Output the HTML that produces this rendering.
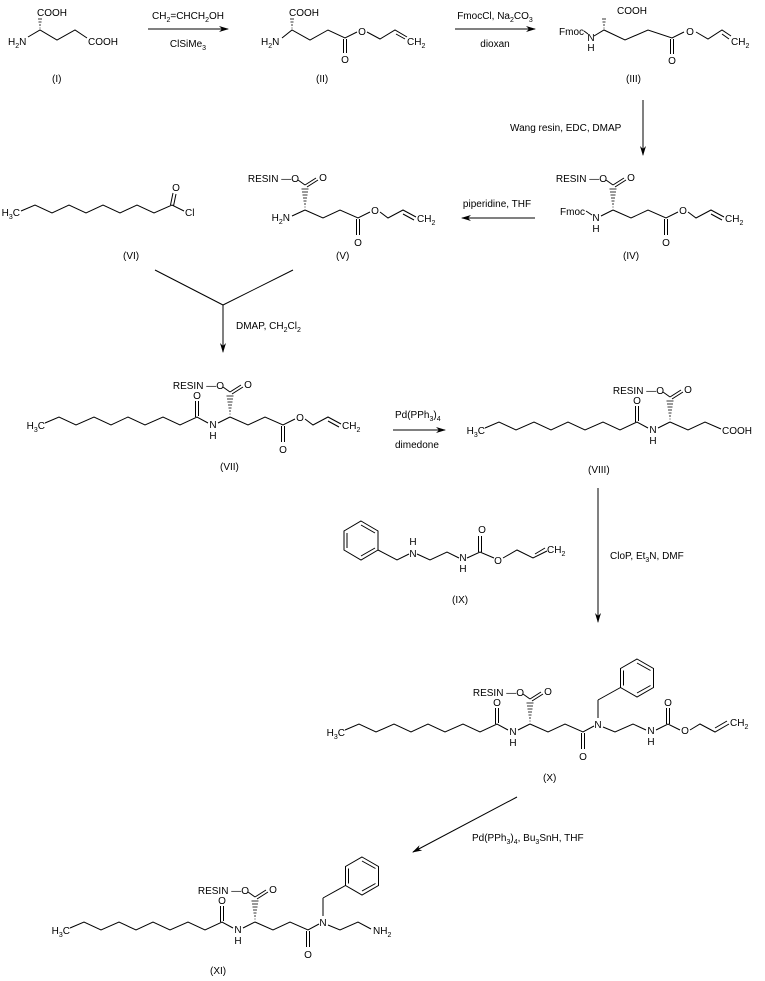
<!DOCTYPE html>
<html><head><meta charset="utf-8"><style>
html,body{margin:0;padding:0;background:#fff}
svg{display:block}
text{font-family:"Liberation Sans",Arial,sans-serif;font-size:10px;fill:#000}
.s{font-size:7px}
</style></head><body>
<svg width="765" height="981" viewBox="0 0 765 981" xmlns="http://www.w3.org/2000/svg">
<defs>
<marker id="ah" markerWidth="10" markerHeight="6" refX="9" refY="3" orient="auto" markerUnits="userSpaceOnUse"><path d="M0,0 L10,3 L0,6 L3,3 z" fill="#000"/></marker>
</defs>
<g stroke="#000" stroke-width="1" fill="none">
<!-- I -->
<polyline points="28,37 40,30 57,40 75,30 87,38"/>
<g stroke-width="0.8"><line x1="39.5" y1="28" x2="40.5" y2="28"/><line x1="39" y1="25" x2="41" y2="25"/><line x1="38.5" y1="22" x2="41.5" y2="22"/><line x1="38" y1="19" x2="42" y2="19"/></g>
<line x1="148" y1="29" x2="228" y2="29" marker-end="url(#ah)"/>
<!-- II -->
<polyline points="282,38 292,30 310,40 328,30 345,38 357,32"/>
<line x1="343.5" y1="39" x2="343.5" y2="53"/><line x1="346.5" y1="39" x2="346.5" y2="53"/>
<polyline points="367,32 380,39 395,30 407,37"/><line x1="396" y1="34" x2="405" y2="39"/>
<g stroke-width="0.8"><line x1="291.5" y1="28" x2="292.5" y2="28"/><line x1="291" y1="25" x2="293" y2="25"/><line x1="290.5" y1="22" x2="293.5" y2="22"/><line x1="290" y1="19" x2="294" y2="19"/></g>
<line x1="455" y1="29" x2="535" y2="29" marker-end="url(#ah)"/>
<!-- III -->
<line x1="584" y1="31" x2="588" y2="34"/>
<polyline points="594,36 604,30 625,40 648,30 672,38 684,32"/>
<line x1="670.5" y1="39" x2="670.5" y2="54"/><line x1="673.5" y1="39" x2="673.5" y2="54"/>
<polyline points="696,32 708,39 722,30 731,36"/><line x1="722" y1="34" x2="729" y2="39"/>
<g stroke-width="0.8"><line x1="603.5" y1="28" x2="604.5" y2="28"/><line x1="603" y1="25" x2="605" y2="25"/><line x1="602.5" y1="22" x2="605.5" y2="22"/><line x1="602" y1="19" x2="606" y2="19"/></g>
<line x1="643" y1="100" x2="643" y2="155" marker-end="url(#ah)"/>
<line x1="535" y1="218" x2="462" y2="218" marker-end="url(#ah)"/>
<!-- VI -->
<polyline points="21,211 35,205 52,213 69,205 86,213 103,205 120,213 137,205 154,213 172,205 184,211"/>
<line x1="170.5" y1="205" x2="173" y2="193"/><line x1="173.5" y1="206" x2="176" y2="194"/>
<line x1="155" y1="270" x2="223" y2="305"/><line x1="293" y1="270" x2="223" y2="305"/>
<line x1="223" y1="305" x2="223" y2="352" marker-end="url(#ah)"/>
<line x1="393" y1="430" x2="445" y2="430" marker-end="url(#ah)"/>
<line x1="598" y1="488" x2="598" y2="622" marker-end="url(#ah)"/>
<!-- IX -->
<polygon points="361,521 378,531 378,550 361,560 344,550 344,531"/>
<line x1="347" y1="533" x2="347" y2="548"/><line x1="361" y1="525" x2="375" y2="533"/><line x1="361" y1="556" x2="375" y2="548"/>
<polyline points="378,550 397,560 409,554"/>
<polyline points="417,554 430,560 447,552 459,558"/>
<polyline points="467,558 480,552 494,558"/>
<line x1="478.5" y1="552" x2="478.5" y2="536"/><line x1="481.5" y1="552" x2="481.5" y2="536"/>
<polyline points="503,558 517,550 533,558 547,551"/><line x1="535" y1="554" x2="545" y2="548"/>
<line x1="517" y1="797" x2="413" y2="852" marker-end="url(#ah)"/>
</g>

<text x="37" y="16">COOH</text>
<text x="8" y="45">H<tspan class="s" dy="3">2</tspan><tspan dy="-3">N</tspan></text>
<text x="88" y="45">COOH</text>
<text x="52" y="82">(I)</text>
<text x="188" y="19" text-anchor="middle">CH<tspan class="s" dy="3">2</tspan><tspan dy="-3">=CHCH</tspan><tspan class="s" dy="3">2</tspan><tspan dy="-3">OH</tspan></text>
<text x="188" y="47" text-anchor="middle">ClSiMe<tspan class="s" dy="3">3</tspan></text>
<text x="289" y="16">COOH</text>
<text x="261" y="45">H<tspan class="s" dy="3">2</tspan><tspan dy="-3">N</tspan></text>
<text x="345" y="63" text-anchor="middle">O</text>
<text x="362" y="35" text-anchor="middle">O</text>
<text x="407" y="45">CH<tspan class="s" dy="3">2</tspan></text>
<text x="316" y="82">(II)</text>
<text x="495" y="19" text-anchor="middle">FmocCl, Na<tspan class="s" dy="3">2</tspan><tspan dy="-3">CO</tspan><tspan class="s" dy="3">3</tspan></text>
<text x="495" y="47" text-anchor="middle">dioxan</text>
<text x="584" y="35" text-anchor="end">Fmoc</text>
<text x="591" y="41" text-anchor="middle">N</text>
<text x="591" y="51" text-anchor="middle">H</text>
<text x="617" y="14">COOH</text>
<text x="672" y="64" text-anchor="middle">O</text>
<text x="690" y="35" text-anchor="middle">O</text>
<text x="731" y="45">CH<tspan class="s" dy="3">2</tspan></text>
<text x="626" y="82">(III)</text>
<text x="510" y="131">Wang resin, EDC, DMAP</text>
<text x="497" y="207" text-anchor="middle">piperidine, THF</text>
<text x="20" y="216" text-anchor="end">H<tspan class="s" dy="3">3</tspan><tspan dy="-3">C</tspan></text>
<text x="176" y="191" text-anchor="middle">O</text>
<text x="185" y="216">Cl</text>
<text x="123" y="259">(VI)</text>
<text x="336" y="259">(V)</text>
<text x="623" y="259">(IV)</text>
<text x="236" y="329">DMAP, CH<tspan class="s" dy="3">2</tspan><tspan dy="-3">Cl</tspan><tspan class="s" dy="3">2</tspan></text>
<text x="395" y="418">Pd(PPh<tspan class="s" dy="3">3</tspan><tspan dy="-3">)</tspan><tspan class="s" dy="3">4</tspan></text>
<text x="395" y="448">dimedone</text>
<text x="220" y="470">(VII)</text>
<text x="588" y="473">(VIII)</text>
<text x="610" y="559">CloP, Et<tspan class="s" dy="3">3</tspan><tspan dy="-3">N, DMF</tspan></text>
<text x="413" y="557" text-anchor="middle">N</text>
<text x="413" y="545" text-anchor="middle">H</text>
<text x="463" y="561" text-anchor="middle">N</text>
<text x="463" y="572" text-anchor="middle">H</text>
<text x="482" y="533" text-anchor="middle">O</text>
<text x="498" y="564" text-anchor="middle">O</text>
<text x="547" y="553">CH<tspan class="s" dy="3">2</tspan></text>
<text x="452" y="603">(IX)</text>
<text x="543" y="781">(X)</text>
<text x="472" y="841">Pd(PPh<tspan class="s" dy="3">3</tspan><tspan dy="-3">)</tspan><tspan class="s" dy="3">4</tspan><tspan dy="-3">, Bu</tspan><tspan class="s" dy="3">3</tspan><tspan dy="-3">SnH, THF</tspan></text>
<text x="210" y="974">(XI)</text>

<!-- V -->
<g transform="translate(117,218)">
<g stroke="#000" fill="none">
<line x1="188" y1="-33" x2="199" y2="-40"/><line x1="190" y1="-31" x2="201" y2="-38"/>
<line x1="188" y1="-33" x2="181" y2="-38"/>
<g stroke-width="0.8"><line x1="187.5" y1="-11" x2="188.5" y2="-11"/><line x1="187" y1="-14" x2="189" y2="-14"/><line x1="186.5" y1="-17" x2="189.5" y2="-17"/><line x1="186" y1="-20" x2="190" y2="-20"/><line x1="185.5" y1="-23" x2="190.5" y2="-23"/><line x1="185" y1="-26" x2="191" y2="-26"/><line x1="184.5" y1="-29" x2="191.5" y2="-29"/></g>
<line x1="175" y1="-2" x2="188" y2="-8"/>
<polyline points="188,-8 206,0 223,-8 241,0 253,-6"/>
<line x1="239.5" y1="1" x2="239.5" y2="17"/><line x1="242.5" y1="1" x2="242.5" y2="17"/>
<polyline points="263,-6 271,0 286,-8 299,-1"/><line x1="286" y1="-4" x2="297" y2="2"/>
</g>
<text x="182" y="-36" text-anchor="end">RESIN —O</text>
<text x="206" y="-37" text-anchor="middle">O</text>
<text x="173" y="3" text-anchor="end">H<tspan class="s" dy="3">2</tspan><tspan dy="-3">N</tspan></text>
<text x="241" y="28" text-anchor="middle">O</text>
<text x="258" y="-4" text-anchor="middle">O</text>
<text x="300" y="4">CH<tspan class="s" dy="3">2</tspan></text>
</g>

<!-- IV -->
<g transform="translate(425,218)">
<g stroke="#000" fill="none">
<line x1="188" y1="-33" x2="199" y2="-40"/><line x1="190" y1="-31" x2="201" y2="-38"/>
<line x1="188" y1="-33" x2="181" y2="-38"/>
<g stroke-width="0.8"><line x1="187.5" y1="-11" x2="188.5" y2="-11"/><line x1="187" y1="-14" x2="189" y2="-14"/><line x1="186.5" y1="-17" x2="189.5" y2="-17"/><line x1="186" y1="-20" x2="190" y2="-20"/><line x1="185.5" y1="-23" x2="190.5" y2="-23"/><line x1="185" y1="-26" x2="191" y2="-26"/><line x1="184.5" y1="-29" x2="191.5" y2="-29"/></g>
<line x1="161" y1="-7" x2="167" y2="-3"/>
<line x1="176" y1="-2" x2="188" y2="-8"/>
<polyline points="188,-8 206,0 223,-8 241,0 253,-6"/>
<line x1="239.5" y1="1" x2="239.5" y2="17"/><line x1="242.5" y1="1" x2="242.5" y2="17"/>
<polyline points="263,-6 271,0 286,-8 299,-1"/><line x1="286" y1="-4" x2="297" y2="2"/>
</g>
<text x="182" y="-36" text-anchor="end">RESIN —O</text>
<text x="206" y="-37" text-anchor="middle">O</text>
<text x="160" y="-3" text-anchor="end">Fmoc</text>
<text x="171" y="3" text-anchor="middle">N</text>
<text x="171" y="14" text-anchor="middle">H</text>
<text x="241" y="28" text-anchor="middle">O</text>
<text x="258" y="-4" text-anchor="middle">O</text>
<text x="300" y="4">CH<tspan class="s" dy="3">2</tspan></text>
</g>

<!-- VII -->
<g transform="translate(42,425)">
<g stroke="#000" fill="none">
<polyline points="3,-2 17,-8 34,0 52,-8 69,0 86,-8 103,0 121,-8 138,0 155,-8 166,-2"/>
<line x1="153.5" y1="-8" x2="153.5" y2="-24"/><line x1="156.5" y1="-9" x2="156.5" y2="-24"/>
<line x1="188" y1="-33" x2="199" y2="-40"/><line x1="190" y1="-31" x2="201" y2="-38"/>
<line x1="188" y1="-33" x2="181" y2="-38"/>
<g stroke-width="0.8"><line x1="187.5" y1="-11" x2="188.5" y2="-11"/><line x1="187" y1="-14" x2="189" y2="-14"/><line x1="186.5" y1="-17" x2="189.5" y2="-17"/><line x1="186" y1="-20" x2="190" y2="-20"/><line x1="185.5" y1="-23" x2="190.5" y2="-23"/><line x1="185" y1="-26" x2="191" y2="-26"/><line x1="184.5" y1="-29" x2="191.5" y2="-29"/></g>
<line x1="176" y1="-2" x2="188" y2="-8"/>
<polyline points="188,-8 206,0 223,-8 241,0 253,-6"/>
<line x1="239.5" y1="1" x2="239.5" y2="17"/><line x1="242.5" y1="1" x2="242.5" y2="17"/>
<polyline points="263,-6 271,0 286,-8 299,-1"/><line x1="286" y1="-4" x2="297" y2="2"/>
</g>
<text x="3" y="4" text-anchor="end">H<tspan class="s" dy="3">3</tspan><tspan dy="-3">C</tspan></text>
<text x="155" y="-26" text-anchor="middle">O</text>
<text x="171" y="3" text-anchor="middle">N</text>
<text x="171" y="14" text-anchor="middle">H</text>
<text x="182" y="-36" text-anchor="end">RESIN —O</text>
<text x="206" y="-37" text-anchor="middle">O</text>
<text x="241" y="28" text-anchor="middle">O</text>
<text x="258" y="-4" text-anchor="middle">O</text>
<text x="300" y="4">CH<tspan class="s" dy="3">2</tspan></text>
</g>

<!-- VIII -->
<g transform="translate(482,430)">
<g stroke="#000" fill="none">
<polyline points="3,-2 17,-8 34,0 52,-8 69,0 86,-8 103,0 121,-8 138,0 155,-8 166,-2"/>
<line x1="153.5" y1="-8" x2="153.5" y2="-24"/><line x1="156.5" y1="-9" x2="156.5" y2="-24"/>
<line x1="188" y1="-33" x2="199" y2="-40"/><line x1="190" y1="-31" x2="201" y2="-38"/>
<line x1="188" y1="-33" x2="181" y2="-38"/>
<g stroke-width="0.8"><line x1="187.5" y1="-11" x2="188.5" y2="-11"/><line x1="187" y1="-14" x2="189" y2="-14"/><line x1="186.5" y1="-17" x2="189.5" y2="-17"/><line x1="186" y1="-20" x2="190" y2="-20"/><line x1="185.5" y1="-23" x2="190.5" y2="-23"/><line x1="185" y1="-26" x2="191" y2="-26"/><line x1="184.5" y1="-29" x2="191.5" y2="-29"/></g>
<line x1="176" y1="-2" x2="188" y2="-8"/>
<polyline points="188,-8 206,0 223,-8 239,-1"/>
</g>
<text x="3" y="4" text-anchor="end">H<tspan class="s" dy="3">3</tspan><tspan dy="-3">C</tspan></text>
<text x="155" y="-26" text-anchor="middle">O</text>
<text x="171" y="3" text-anchor="middle">N</text>
<text x="171" y="14" text-anchor="middle">H</text>
<text x="182" y="-36" text-anchor="end">RESIN —O</text>
<text x="206" y="-37" text-anchor="middle">O</text>
<text x="240" y="4">COOH</text>
</g>

<!-- X -->
<g transform="translate(342,732)">
<g stroke="#000" fill="none">
<polyline points="3,-2 17,-8 34,0 52,-8 69,0 86,-8 103,0 121,-8 138,0 155,-8 166,-2"/>
<line x1="153.5" y1="-8" x2="153.5" y2="-24"/><line x1="156.5" y1="-9" x2="156.5" y2="-24"/>
<line x1="188" y1="-33" x2="199" y2="-40"/><line x1="190" y1="-31" x2="201" y2="-38"/>
<line x1="188" y1="-33" x2="181" y2="-38"/>
<g stroke-width="0.8"><line x1="187.5" y1="-11" x2="188.5" y2="-11"/><line x1="187" y1="-14" x2="189" y2="-14"/><line x1="186.5" y1="-17" x2="189.5" y2="-17"/><line x1="186" y1="-20" x2="190" y2="-20"/><line x1="185.5" y1="-23" x2="190.5" y2="-23"/><line x1="185" y1="-26" x2="191" y2="-26"/><line x1="184.5" y1="-29" x2="191.5" y2="-29"/></g>
<line x1="176" y1="-2" x2="188" y2="-8"/>
<polyline points="188,-8 206,0 223,-8 241,0 252,-6"/>
<line x1="239.5" y1="1" x2="239.5" y2="17"/><line x1="242.5" y1="1" x2="242.5" y2="17"/>
<line x1="256" y1="-14" x2="256" y2="-32"/><line x1="256" y1="-32" x2="278.5" y2="-44.5"/>
<polygon points="295,-73 311.5,-63.5 311.5,-44.5 295,-35 278.5,-44.5 278.5,-63.5"/>
<line x1="281.5" y1="-61.5" x2="281.5" y2="-46.5"/><line x1="295" y1="-69" x2="308.5" y2="-61.5"/><line x1="295" y1="-39" x2="308.5" y2="-46.5"/>
<polyline points="261,-5 273,0 291,-8 304,-2"/>
<polyline points="314,-2 326,-8 338,-2"/>
<line x1="324.5" y1="-8" x2="324.5" y2="-24"/><line x1="327.5" y1="-8" x2="327.5" y2="-24"/>
<polyline points="348,-2 358,-8 373,0 387,-8"/><line x1="373" y1="-4" x2="385" y2="-11"/>
</g>
<text x="3" y="4" text-anchor="end">H<tspan class="s" dy="3">3</tspan><tspan dy="-3">C</tspan></text>
<text x="155" y="-26" text-anchor="middle">O</text>
<text x="171" y="3" text-anchor="middle">N</text>
<text x="171" y="14" text-anchor="middle">H</text>
<text x="182" y="-36" text-anchor="end">RESIN —O</text>
<text x="206" y="-37" text-anchor="middle">O</text>
<text x="241" y="28" text-anchor="middle">O</text>
<text x="256" y="-4" text-anchor="middle">N</text>
<text x="309" y="2" text-anchor="middle">N</text>
<text x="309" y="13" text-anchor="middle">H</text>
<text x="326" y="-26" text-anchor="middle">O</text>
<text x="343" y="2" text-anchor="middle">O</text>
<text x="388" y="-6">CH<tspan class="s" dy="3">2</tspan></text>
</g>

<!-- XI -->
<g transform="translate(67,930)">
<g stroke="#000" fill="none">
<polyline points="3,-2 17,-8 34,0 52,-8 69,0 86,-8 103,0 121,-8 138,0 155,-8 166,-2"/>
<line x1="153.5" y1="-8" x2="153.5" y2="-24"/><line x1="156.5" y1="-9" x2="156.5" y2="-24"/>
<line x1="188" y1="-33" x2="199" y2="-40"/><line x1="190" y1="-31" x2="201" y2="-38"/>
<line x1="188" y1="-33" x2="181" y2="-38"/>
<g stroke-width="0.8"><line x1="187.5" y1="-11" x2="188.5" y2="-11"/><line x1="187" y1="-14" x2="189" y2="-14"/><line x1="186.5" y1="-17" x2="189.5" y2="-17"/><line x1="186" y1="-20" x2="190" y2="-20"/><line x1="185.5" y1="-23" x2="190.5" y2="-23"/><line x1="185" y1="-26" x2="191" y2="-26"/><line x1="184.5" y1="-29" x2="191.5" y2="-29"/></g>
<line x1="176" y1="-2" x2="188" y2="-8"/>
<polyline points="188,-8 206,0 223,-8 241,0 252,-6"/>
<line x1="239.5" y1="1" x2="239.5" y2="17"/><line x1="242.5" y1="1" x2="242.5" y2="17"/>
<line x1="256" y1="-14" x2="256" y2="-32"/><line x1="256" y1="-32" x2="278.5" y2="-44.5"/>
<polygon points="295,-73 311.5,-63.5 311.5,-44.5 295,-35 278.5,-44.5 278.5,-63.5"/>
<line x1="281.5" y1="-61.5" x2="281.5" y2="-46.5"/><line x1="295" y1="-69" x2="308.5" y2="-61.5"/><line x1="295" y1="-39" x2="308.5" y2="-46.5"/>
<polyline points="261,-5 273,0 291,-8 304,-1"/>
</g>
<text x="3" y="4" text-anchor="end">H<tspan class="s" dy="3">3</tspan><tspan dy="-3">C</tspan></text>
<text x="155" y="-26" text-anchor="middle">O</text>
<text x="171" y="3" text-anchor="middle">N</text>
<text x="171" y="14" text-anchor="middle">H</text>
<text x="182" y="-36" text-anchor="end">RESIN —O</text>
<text x="206" y="-37" text-anchor="middle">O</text>
<text x="241" y="28" text-anchor="middle">O</text>
<text x="256" y="-4" text-anchor="middle">N</text>
<text x="306" y="4">NH<tspan class="s" dy="3">2</tspan></text>
</g>
</svg>
</body></html>
